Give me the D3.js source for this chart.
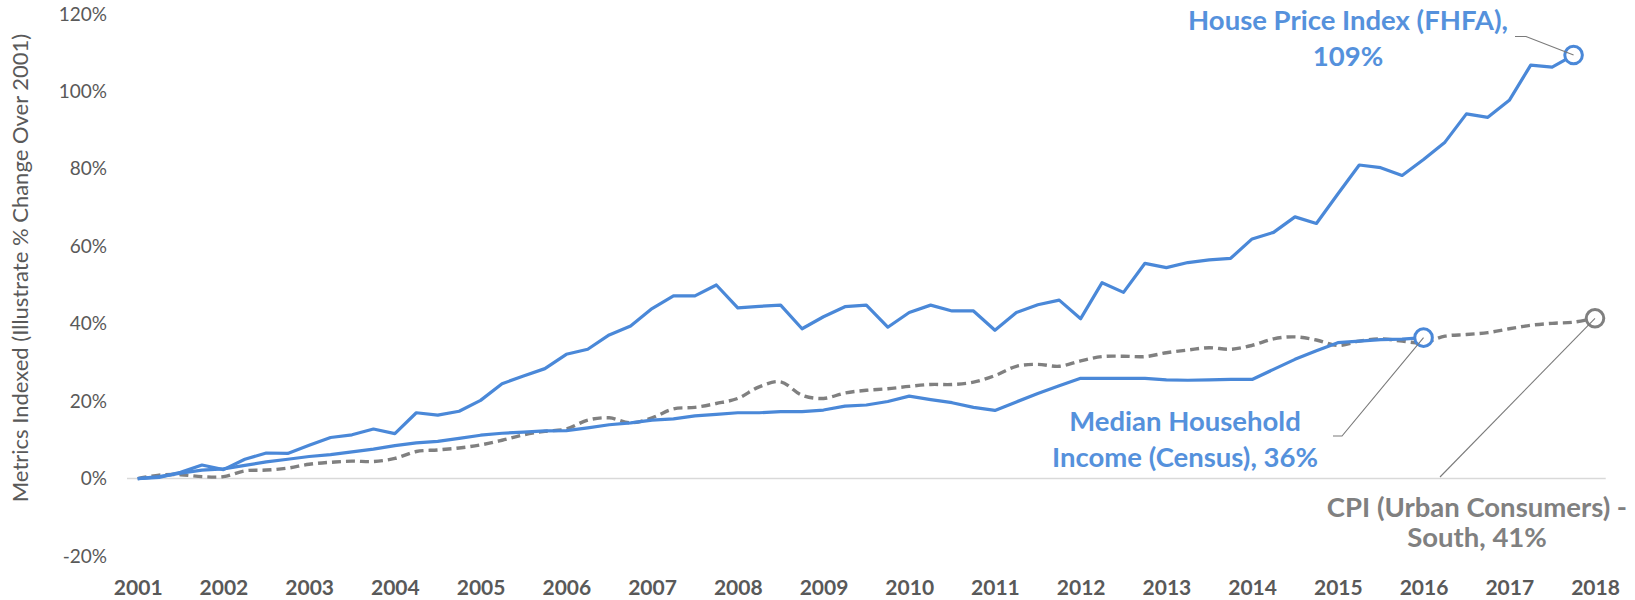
<!DOCTYPE html>
<html>
<head>
<meta charset="utf-8">
<script src="https://cdn.jsdelivr.net/npm/d3@7"></script>
<style>
  html, body { margin: 0; padding: 0; background: #fff; }
  svg { display: block; font-family: Lato, "Open Sans", sans-serif; }
</style>
</head>
<body>
<svg id="chart" width="1635" height="600"></svg>
<script>
// Quarterly change since Q1 2001, as a share (0.5 = 50%)
const yearLabels = ["2001","2002","2003","2004","2005","2006","2007","2008","2009",
                    "2010","2011","2012","2013","2014","2015","2016","2017","2018"];
const yTicks = [-0.2, 0, 0.2, 0.4, 0.6, 0.8, 1.0, 1.2];

// House Price Index (FHFA), Q1 2001 .. Q4 2017
const housePrice = [
  0, 0.003, 0.016, 0.035, 0.023, 0.050, 0.066, 0.065, 0.086, 0.106, 0.113, 0.128, 0.116, 0.170, 0.164, 0.174, 0.202,
  0.245, 0.265, 0.284, 0.321, 0.334, 0.371, 0.394, 0.439, 0.472, 0.472, 0.500, 0.441, 0.445, 0.448, 0.387, 0.418, 0.444,
  0.448, 0.391, 0.429, 0.448, 0.433, 0.433, 0.383, 0.429, 0.449, 0.461, 0.413, 0.506, 0.481, 0.556, 0.545, 0.558, 0.565,
  0.569, 0.619, 0.636, 0.676, 0.659, 0.735, 0.810, 0.803, 0.783, 0.824, 0.869, 0.942, 0.933, 0.977, 1.068, 1.063, 1.094
];

// Median Household Income (Census), Q1 2001 .. Q1 2016
const medianIncome = [
  0, 0.005, 0.014, 0.022, 0.025, 0.034, 0.043, 0.050, 0.057, 0.062, 0.069, 0.076, 0.085, 0.092, 0.096, 0.104, 0.112,
  0.117, 0.120, 0.123, 0.124, 0.131, 0.139, 0.144, 0.151, 0.154, 0.162, 0.166, 0.170, 0.170, 0.173, 0.173, 0.177, 0.187,
  0.190, 0.199, 0.213, 0.204, 0.196, 0.184, 0.176, 0.198, 0.220, 0.240, 0.259, 0.259, 0.259, 0.259, 0.255, 0.254, 0.255,
  0.256, 0.256, 0.282, 0.308, 0.330, 0.351, 0.355, 0.359, 0.360, 0.364
];

// CPI (Urban Consumers) - South, Q1 2001 .. Q1 2018
const cpiSouth = [
  0, 0.009, 0.010, 0.005, 0.005, 0.020, 0.022, 0.027, 0.037, 0.042, 0.045, 0.044, 0.052, 0.070, 0.074, 0.079, 0.087,
  0.099, 0.113, 0.122, 0.128, 0.151, 0.157, 0.144, 0.157, 0.180, 0.184, 0.194, 0.207, 0.237, 0.250, 0.215, 0.207, 0.221,
  0.228, 0.232, 0.238, 0.243, 0.243, 0.249, 0.266, 0.290, 0.295, 0.290, 0.304, 0.315, 0.316, 0.315, 0.325, 0.332, 0.338,
  0.334, 0.344, 0.361, 0.366, 0.358, 0.344, 0.355, 0.361, 0.355, 0.351, 0.368, 0.372, 0.377, 0.387, 0.396, 0.401, 0.404, 0.414
];

const BLUE = "#4a88d8";
const BLUE_TEXT = "#5591dc";
const GRAY = "#808080";
const AXIS_TEXT = "#595959";

const svg = d3.select("#chart");

// one category per quarter, 69 quarters in all
const nQuarters = yearLabels.length * 4 - 3;
const x = d3.scaleLinear().domain([0, nQuarters - 1]).range([137.7, 1595]);
const step = x(1) - x(0);
const y = d3.scaleLinear().domain([-0.2, 1.2]).range([556, 14]);

const plotLeft = x(0) - step / 2, plotRight = x(nQuarters - 1) + step / 2;

// zero line
svg.append("line")
  .attr("x1", plotLeft).attr("x2", plotRight)
  .attr("y1", y(0)).attr("y2", y(0))
  .attr("stroke", "#d9d9d9").attr("stroke-width", 1.5);

// y axis labels (plain hyphen for negatives)
const pct = d3.format(".0%");
const yAxis = d3.axisLeft(y).tickValues(yTicks)
  .tickFormat(d => pct(d).replace("\u2212", "-"))
  .tickSize(0).tickPadding(20);
svg.append("g").attr("transform", `translate(${plotLeft},0)`).call(yAxis)
  .call(g => g.select(".domain").remove())
  .selectAll("text")
  .attr("font-family", "Lato, sans-serif").attr("font-size", 19).attr("fill", AXIS_TEXT);

// x axis labels: one per year, on the first quarter
const xAxis = d3.axisBottom(x)
  .tickValues(yearLabels.map((_, i) => i * 4))
  .tickFormat((d, i) => yearLabels[i])
  .tickSize(0).tickPadding(24);
svg.append("g").attr("transform", `translate(0,${y(-0.2)})`).call(xAxis)
  .call(g => g.select(".domain").remove())
  .selectAll("text")
  .attr("font-family", "Lato, sans-serif").attr("font-size", 21)
  .attr("font-weight", "bold").attr("fill", AXIS_TEXT);

// y axis title
svg.append("text")
  .attr("transform", `translate(28,268) rotate(-90)`)
  .attr("text-anchor", "middle")
  .attr("font-size", 22).attr("fill", AXIS_TEXT)
  .text("Metrics Indexed (Illustrate % Change Over 2001)");

// series lines
const straight = d3.line().x((d, i) => x(i)).y(d => y(d));
const smooth = d3.line().x((d, i) => x(i)).y(d => y(d)).curve(d3.curveCatmullRom.alpha(0.5));

svg.append("path").datum(cpiSouth).attr("d", smooth)
  .attr("fill", "none").attr("stroke", GRAY).attr("stroke-width", 3.4)
  .attr("stroke-dasharray", "9,5");
svg.append("path").datum(medianIncome).attr("d", straight)
  .attr("fill", "none").attr("stroke", BLUE).attr("stroke-width", 3.2)
  .attr("stroke-linejoin", "round");
svg.append("path").datum(housePrice).attr("d", straight)
  .attr("fill", "none").attr("stroke", BLUE).attr("stroke-width", 3.2)
  .attr("stroke-linejoin", "round");

// end-point callouts
const callouts = [
  { values: housePrice, color: BLUE, textColor: BLUE_TEXT,
    lines: ["House Price Index (FHFA),", "109%"], cx: 1348, baseline: 30, lineGap: 36,
    leader: [[1515, 36.5], [1526, 36.5]] },
  { values: medianIncome, color: BLUE, textColor: BLUE_TEXT,
    lines: ["Median Household", "Income (Census), 36%"], cx: 1185, baseline: 431, lineGap: 36,
    leader: [[1333, 436], [1342, 436]] },
  { values: cpiSouth, color: GRAY, textColor: GRAY,
    lines: ["CPI (Urban Consumers) -", "South, 41%"], cx: 1477, baseline: 517, lineGap: 30,
    leader: [[1440, 477]] }
];

callouts.forEach(c => {
  const last = c.values.length - 1;
  const px = x(last), py = y(c.values[last]);
  svg.append("circle").attr("cx", px).attr("cy", py).attr("r", 8.8)
    .attr("fill", "#fff").attr("stroke", c.color).attr("stroke-width", 3);
  svg.append("path")
    .attr("d", d3.line()([...c.leader, [px, py]]))
    .attr("fill", "none").attr("stroke", "#7a7a7a").attr("stroke-width", 1.1);
  const t = svg.append("text").attr("text-anchor", "middle")
    .attr("font-size", 27.5).attr("font-weight", "bold").attr("fill", c.textColor);
  c.lines.forEach((s, k) => {
    t.append("tspan").attr("x", c.cx).attr("y", c.baseline + k * c.lineGap).text(s);
  });
});
</script>
</body>
</html>
